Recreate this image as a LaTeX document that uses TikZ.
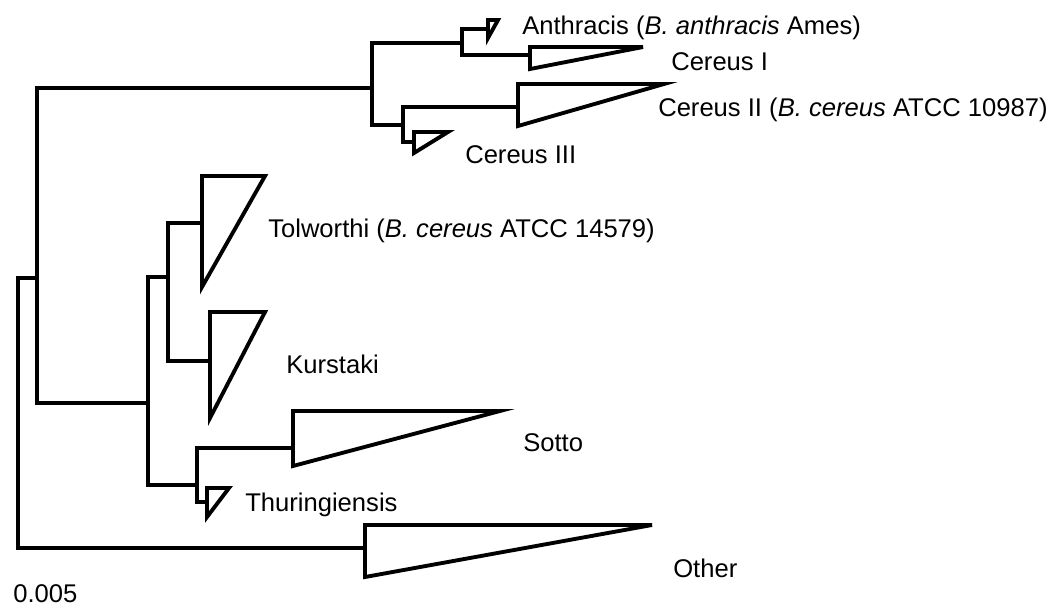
\documentclass[tikz,border=0pt]{standalone}
\usepackage{fontspec}
\setmainfont{Liberation Sans}
\newcommand{\clade}[4]{\draw[branch] (#1 |- 0,#2) -- (#3,#2) -- (#1 |- 0,#4) -- cycle;}
\begin{document}
\begin{tikzpicture}[x=0.75pt,y=-0.75pt,
  branch/.style={line width=2.9pt, line join=miter, draw=black},
  lbl/.style={anchor=base west, inner sep=0pt, font=\fontsize{19.2}{22}\selectfont}]
\useasboundingbox (0,0) rectangle (1051,608);
% internal nodes
\coordinate (R) at (18,400);
\coordinate (A) at (37,278);
\coordinate (B) at (372,88);
\coordinate (B1) at (462,43);
\coordinate (B2) at (403,125);
\coordinate (L) at (148,403);
\coordinate (L1) at (168,277);
\coordinate (L2) at (197,485);
% clade attach points
\coordinate (anth) at (488,29);
\coordinate (cer1) at (530,55);
\coordinate (cer2) at (518,107);
\coordinate (cer3) at (414,142);
\coordinate (tol) at (202,223);
\coordinate (kur) at (210,361);
\coordinate (sot) at (293,448);
\coordinate (thu) at (207,502);
\coordinate (oth) at (365,548);
% branches
\draw[branch] (A) -| (R) |- (oth);
\draw[branch] (B) -| (A) |- (L);
\draw[branch] (B1) -| (B) |- (B2);
\draw[branch] (anth) -| (B1) |- (cer1);
\draw[branch] (cer2) -| (B2) |- (cer3);
\draw[branch] (L1) -| (L) |- (L2);
\draw[branch] (tol) -| (L1) |- (kur);
\draw[branch] (sot) -| (L2) |- (thu);
% collapsed clades
\clade{anth}{20}{498}{38}
\clade{cer1}{47}{643}{69}
\clade{cer2}{84}{664}{126}
\clade{cer3}{132}{448}{153}
\clade{tol}{176}{265}{287}
\clade{kur}{312}{265}{418}
\clade{sot}{411}{500}{466}
\clade{thu}{488}{229}{517}
\clade{oth}{525}{652}{577}
% labels
\node[lbl] (tAnth) at (522,34) {Anthracis (\textit{B. anthracis} Ames)};
\node[lbl] (tCer1) at (671,70) {Cereus I};
\node[lbl] (tCer2) at (658,116) {Cereus II (\textit{B. cereus} ATCC 10987)};
\node[lbl] (tCer3) at (465,163) {Cereus III};
\node[lbl] (tTol) at (268,237) {Tolworthi (\textit{B. cereus} ATCC 14579)};
\node[lbl] (tKur) at (286,373) {Kurstaki};
\node[lbl] (tSot) at (523,451) {Sotto};
\node[lbl] (tThu) at (245,511) {Thuringiensis};
\node[lbl] (tOth) at (673,577) {Other};
\node[lbl] (tScale) at (13,602) {0.005};
\end{tikzpicture}
\end{document}
